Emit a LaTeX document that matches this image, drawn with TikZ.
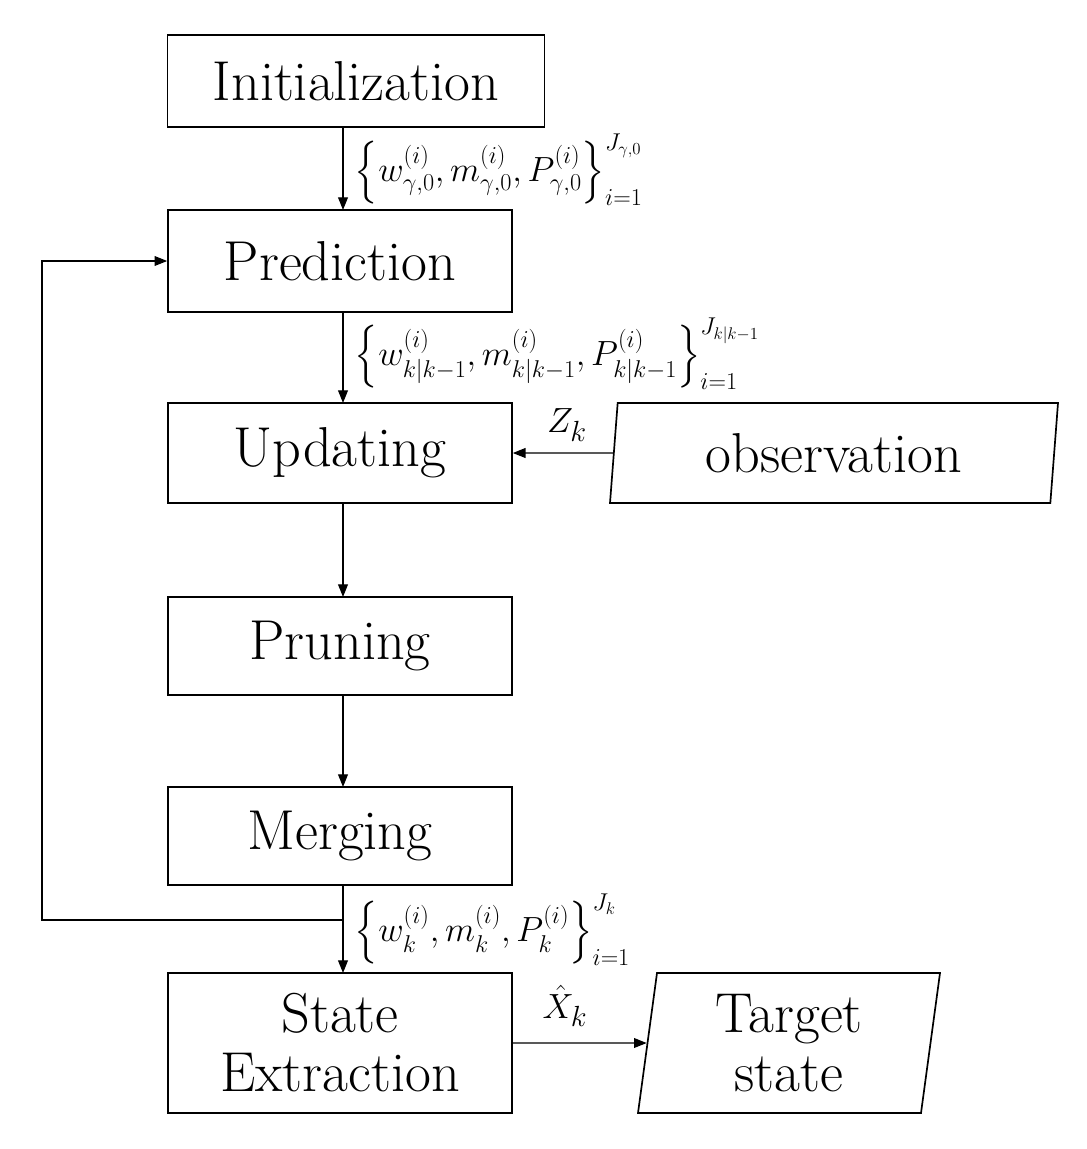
\documentclass[tikz,border=0pt]{standalone}
\usepackage{amsmath}
\usetikzlibrary{shapes.geometric,arrows.meta}
\begin{document}
\begin{tikzpicture}[x=0.025cm,y=-0.025cm,
 box/.style={draw,line width=1.2pt,inner sep=0pt,font=\fontsize{40}{46}\selectfont,align=center},
 para/.style={draw,line width=1.2pt,trapezium,trapezium left angle=79,trapezium right angle=101,trapezium stretches body,inner sep=0pt,font=\fontsize{40}{46}\selectfont,align=center},
 arr/.style={-{Triangle[length=9pt,width=7pt]},line width=0.8pt},
 lab/.style={anchor=west,font=\fontsize{23}{25}\selectfont}]
\useasboundingbox (0,0) rectangle (1086,1149);
\node[box,minimum width=377*0.025cm,minimum height=92*0.025cm] (init) at (356,81) {Initialization};
\node[box,minimum width=344*0.025cm,minimum height=102*0.025cm] (pred) at (340,261) {Prediction};
\node[box,minimum width=344*0.025cm,minimum height=100*0.025cm] (upd) at (340,453) {Updating};
\node[box,minimum width=344*0.025cm,minimum height=98*0.025cm] (prun) at (340,646) {Pruning};
\node[box,minimum width=344*0.025cm,minimum height=98*0.025cm] (merg) at (340,836) {Merging};
\node[box,minimum width=344*0.025cm,minimum height=140*0.025cm] (se) at (340,1043) {State\\[-4pt]Extraction};
\node[para,minimum width=448*0.025cm,minimum height=100*0.025cm] (obs) at (834,453) {observation};
\node[para,minimum width=302*0.025cm,minimum height=140*0.025cm] (ts) at (789,1043) {Target\\[-4pt]state};
\coordinate (s) at (343,920);
\coordinate (c1) at (42,920);
\coordinate (c2) at (42,261);
\draw[arr] (343,127) -- (343,210);
\draw[arr] (343,312) -- (343,403);
\draw[arr] (343,503) -- (343,597);
\draw[arr] (343,695) -- (343,787);
\draw[arr] (343,885) -- (343,973);
\draw[arr] (s) -- (c1) -- (c2) -- (pred.west);
\draw[arr] (obs.west) -- (upd.east);
\draw[arr] (se.east) -- (ts.west);
\node[lab] at (350,170) {$\left\{w_{\gamma,0}^{(i)},m_{\gamma,0}^{(i)},P_{\gamma,0}^{(i)}\right\}_{i=1}^{J_{\gamma,0}}$};
\node[lab] at (350,354) {$\left\{w_{k|k-1}^{(i)},m_{k|k-1}^{(i)},P_{k|k-1}^{(i)}\right\}_{i=1}^{J_{k|k-1}}$};
\node[lab] at (350,930) {$\left\{w_{k}^{(i)},m_{k}^{(i)},P_{k}^{(i)}\right\}_{i=1}^{J_{k}}$};
\node[font=\fontsize{28}{30}\selectfont] at (567,425) {$Z_k$};
\node[font=\fontsize{28}{30}\selectfont] at (565,1006) {$\hat{X}_k$};
\end{tikzpicture}
\end{document}
